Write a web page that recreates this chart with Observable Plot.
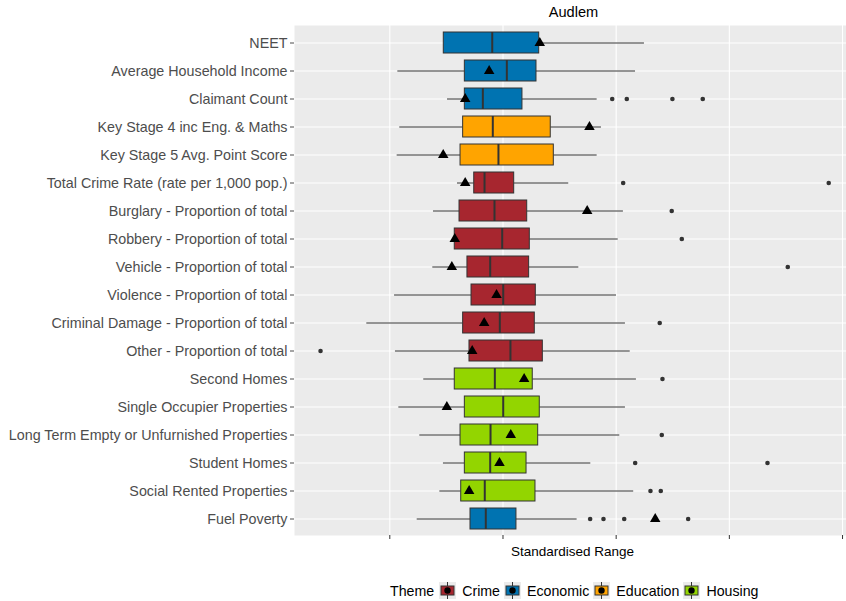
<!DOCTYPE html>
<html>
<head>
<meta charset="utf-8">
<script src="https://cdn.jsdelivr.net/npm/d3@7"></script>
<script src="https://cdn.jsdelivr.net/npm/@observablehq/plot@0.6"></script>
<style>
  html, body { margin: 0; padding: 0; background: white; overflow: hidden; }
  body { width: 846px; height: 601px; font-family: "Liberation Sans", Arial, sans-serif; }
  #legend { position: relative; height: 36px; }
  #legend .wrap { position: absolute; left: 390px; top: 17px; display: flex; align-items: center; font-size: 14.2px; color: #000; }
  #legend .item { display: flex; align-items: center; margin-right: 4px; }
  #legend svg { margin-right: 6px; }
</style>
</head>
<body>
<div id="chart"></div>
<div id="legend"></div>
<script>
const title = "Audlem";
const xLabel = "Standardised Range";
const categories = [
  "NEET",
  "Average Household Income",
  "Claimant Count",
  "Key Stage 4 inc Eng. & Maths",
  "Key Stage 5 Avg. Point Score",
  "Total Crime Rate (rate per 1,000 pop.)",
  "Burglary - Proportion of total",
  "Robbery - Proportion of total",
  "Vehicle - Proportion of total",
  "Violence - Proportion of total",
  "Criminal Damage - Proportion of total",
  "Other - Proportion of total",
  "Second Homes",
  "Single Occupier Properties",
  "Long Term Empty or Unfurnished Properties",
  "Student Homes",
  "Social Rented Properties",
  "Fuel Poverty"
];
const themes = [
  "Economic", "Economic", "Economic", "Education", "Education",
  "Crime", "Crime", "Crime", "Crime", "Crime", "Crime", "Crime",
  "Housing", "Housing", "Housing", "Housing", "Housing", "Economic"
];
const lowerWhisker = [0.477, 0.071, 0.510, 0.088, 0.065, 0.598, 0.386, 0.574, 0.380, 0.042, -0.203, 0.050, 0.300, 0.080, 0.265, 0.474, 0.442, 0.242];
const q1          = [0.477, 0.663, 0.663, 0.648, 0.625, 0.746, 0.616, 0.574, 0.686, 0.722, 0.648, 0.704, 0.574, 0.663, 0.625, 0.663, 0.631, 0.713];
const median      = [0.905, 1.034, 0.822, 0.910, 0.960, 0.837, 0.925, 0.993, 0.887, 1.002, 0.972, 1.066, 0.928, 1.002, 0.890, 0.887, 0.839, 0.848];
const q3          = [1.320, 1.296, 1.172, 1.422, 1.449, 1.099, 1.214, 1.237, 1.231, 1.290, 1.281, 1.352, 1.263, 1.325, 1.311, 1.208, 1.287, 1.119];
const upperWhisker= [2.250, 2.171, 1.832, 1.870, 1.832, 1.581, 2.064, 2.018, 1.670, 2.003, 2.082, 2.124, 2.179, 2.082, 2.032, 1.776, 2.155, 1.655];
const areaValue   = [1.325, 0.878, 0.666, 1.764, 0.472, 0.666, 1.744, 0.574, 0.548, 0.943, 0.834, 0.728, 1.187, 0.504, 1.069, 0.969, 0.701, 2.345];
const outlierNames = [
  "Claimant Count", "Claimant Count", "Claimant Count", "Claimant Count",
  "Total Crime Rate (rate per 1,000 pop.)", "Total Crime Rate (rate per 1,000 pop.)",
  "Burglary - Proportion of total",
  "Robbery - Proportion of total",
  "Vehicle - Proportion of total",
  "Criminal Damage - Proportion of total",
  "Other - Proportion of total",
  "Second Homes",
  "Long Term Empty or Unfurnished Properties",
  "Student Homes", "Student Homes",
  "Social Rented Properties", "Social Rented Properties",
  "Fuel Poverty", "Fuel Poverty", "Fuel Poverty", "Fuel Poverty"
];
const outlierValues = [
  1.965, 2.094, 2.497, 2.765,
  2.062, 3.878,
  2.491,
  2.580,
  3.516,
  2.385,
  -0.612,
  2.409,
  2.403,
  2.168, 3.337,
  2.303, 2.394,
  1.770, 1.888, 2.071, 2.636
];
const themeNames = ["Crime", "Economic", "Education", "Housing"];
const themeColors = ["#A7262F", "#0073B1", "#FFA400", "#93D500"];
const xTicks = [0, 1, 2, 3, 4];

const rows = categories.map((name, i) => ({
  name, theme: themes[i], lo: lowerWhisker[i], q1: q1[i], med: median[i],
  q3: q3[i], hi: upperWhisker[i], value: areaValue[i]
}));
const outliers = outlierNames.map((name, i) => ({name, value: outlierValues[i]}));

const chart = Plot.plot({
  width: 846,
  height: 565,
  marginLeft: 294,
  marginRight: 0,
  marginTop: 25,
  marginBottom: 30,
  style: {fontFamily: "'Liberation Sans', Arial, sans-serif", fontSize: "14px", background: "white", color: "#000"},
  x: {domain: [-0.842, 4.035]},
  y: {type: "band", domain: categories, range: [25.5, 535.5], paddingInner: 0.25, paddingOuter: 0.232},
  color: {domain: themeNames, range: themeColors},
  marks: [
    Plot.frame({fill: "#EBEBEB"}),
    Plot.gridX(xTicks, {stroke: "#FFFFFF", strokeOpacity: 1, strokeWidth: 1.1}),
    Plot.gridY({stroke: "#FFFFFF", strokeOpacity: 1, strokeWidth: 1.1}),
    Plot.axisY({tickSize: 4, tickPadding: 3, color: "#4D4D4D", fontSize: 14.3, label: null}),
    Plot.axisX(xTicks, {tickSize: 4, tickFormat: () => "", stroke: "#333", label: null}),
    Plot.ruleY(rows, {y: "name", x1: "lo", x2: "q1", stroke: "#333", strokeWidth: 1}),
    Plot.ruleY(rows, {y: "name", x1: "q3", x2: "hi", stroke: "#333", strokeWidth: 1}),
    Plot.barX(rows, {y: "name", x1: "q1", x2: "q3", fill: "theme", stroke: "#333", strokeWidth: 1}),
    Plot.tickX(rows, {y: "name", x: "med", stroke: "#333", strokeWidth: 2}),
    Plot.dot(outliers, {x: "value", y: "name", r: 2.3, fill: "#333", stroke: null}),
    Plot.dot(rows, {x: "value", y: "name", symbol: "triangle", r: 3.9, fill: "black", stroke: null}),
    Plot.text([title], {text: d => d, frameAnchor: "top", lineAnchor: "middle", dy: -13, dx: 3, fontSize: 14.6, fill: "black"}),
    Plot.text([xLabel], {text: d => d, frameAnchor: "bottom", lineAnchor: "middle", dy: 16, dx: 2, fontSize: 13.5, fill: "black"})
  ]
});
document.getElementById("chart").appendChild(chart);

// Legend
const legend = document.getElementById("legend");
const wrap = document.createElement("div");
wrap.className = "wrap";
const lab = document.createElement("span");
lab.textContent = "Theme";
lab.style.marginRight = "5px";
wrap.appendChild(lab);
themeNames.forEach((t, i) => {
  const item = document.createElement("span");
  item.className = "item";
  item.innerHTML = `<svg width="17" height="17" viewBox="0 0 17 17">
    <rect x="0" y="0" width="17" height="17" fill="#EBEBEB"/>
    <line x1="8.5" x2="8.5" y1="0" y2="17" stroke="#333" stroke-width="1"/>
    <rect x="2" y="4" width="13" height="9" fill="${themeColors[i]}" stroke="#333" stroke-width="1"/>
    <circle cx="8.5" cy="8.5" r="3.2" fill="black"/>
  </svg><span>${t}</span>`;
  wrap.appendChild(item);
});
legend.appendChild(wrap);
</script>
</body>
</html>
